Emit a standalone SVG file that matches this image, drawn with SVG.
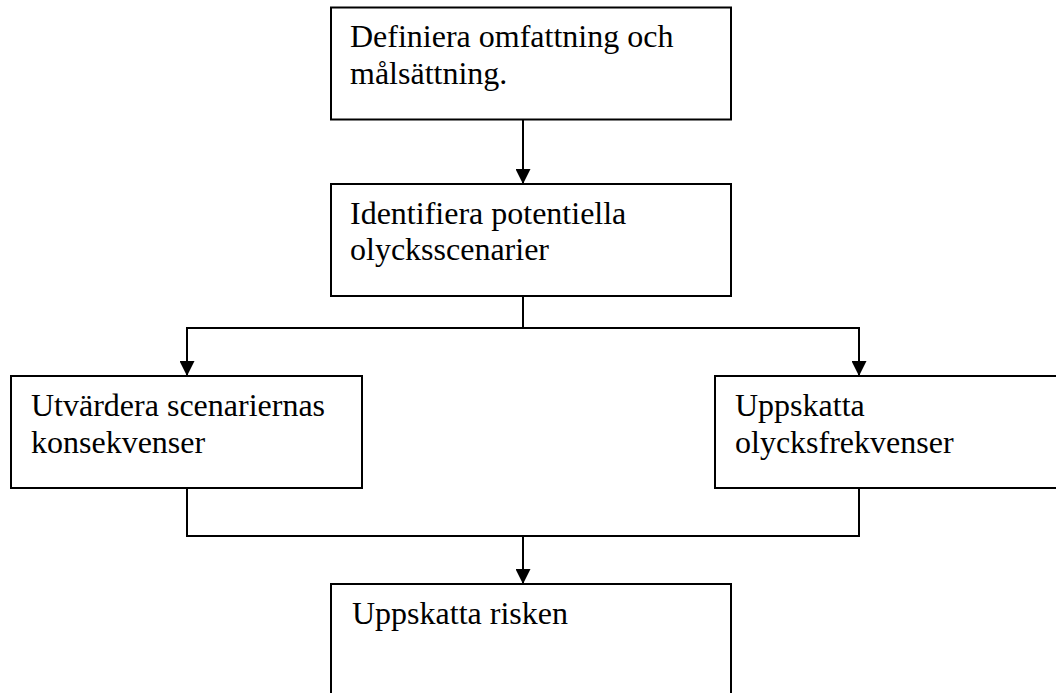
<svg xmlns="http://www.w3.org/2000/svg" width="1056" height="693" viewBox="0 0 1056 693">
<style>
.box{fill:#fff;stroke:#000;stroke-width:2}
.t{font-family:"Liberation Serif","Times New Roman",serif;font-size:32px;fill:#000}
.c{fill:none;stroke:#000;stroke-width:2}
</style>
<defs>
<marker id="ah" markerUnits="userSpaceOnUse" markerWidth="15" markerHeight="15" refX="15" refY="7.5" orient="auto" viewBox="0 0 15 15">
<path d="M0,0 L15,7.5 L0,15 z" fill="#000"/>
</marker>
</defs>
<rect width="1056" height="693" fill="#fff"/>
<g id="connectors">
<line class="c" x1="523" y1="120" x2="523" y2="184" marker-end="url(#ah)"/>
<polyline class="c" points="523,296 523,328"/>
<polyline class="c" points="187,376 187,328 859,328 859,376"/>
<line class="c" x1="187" y1="340" x2="187" y2="376" marker-end="url(#ah)"/>
<line class="c" x1="859" y1="340" x2="859" y2="376" marker-end="url(#ah)"/>
<polyline class="c" points="187,488 187,536 859,536 859,488"/>
<line class="c" x1="523" y1="536" x2="523" y2="584" marker-end="url(#ah)"/>
</g>
<g id="n1">
<rect class="box" x="331" y="7.5" width="400" height="112"/>
<text class="t" x="350" y="47">Definiera omfattning och</text>
<text class="t" x="350" y="83.5">målsättning.</text>
</g>
<g id="n2">
<rect class="box" x="331" y="184" width="400" height="112"/>
<text class="t" x="350" y="223.5">Identifiera potentiella</text>
<text class="t" x="350" y="260">olycksscenarier</text>
</g>
<g id="n3">
<rect class="box" x="11" y="376" width="351" height="112"/>
<text class="t" x="31" y="416">Utvärdera scenariernas</text>
<text class="t" x="31" y="453">konsekvenser</text>
</g>
<g id="n4">
<rect class="box" x="715" y="376" width="351" height="112"/>
<text class="t" x="735" y="416">Uppskatta</text>
<text class="t" x="735" y="453">olycksfrekvenser</text>
</g>
<g id="n5">
<rect class="box" x="331" y="584" width="400" height="112"/>
<text class="t" x="352" y="624">Uppskatta risken</text>
</g>
</svg>
